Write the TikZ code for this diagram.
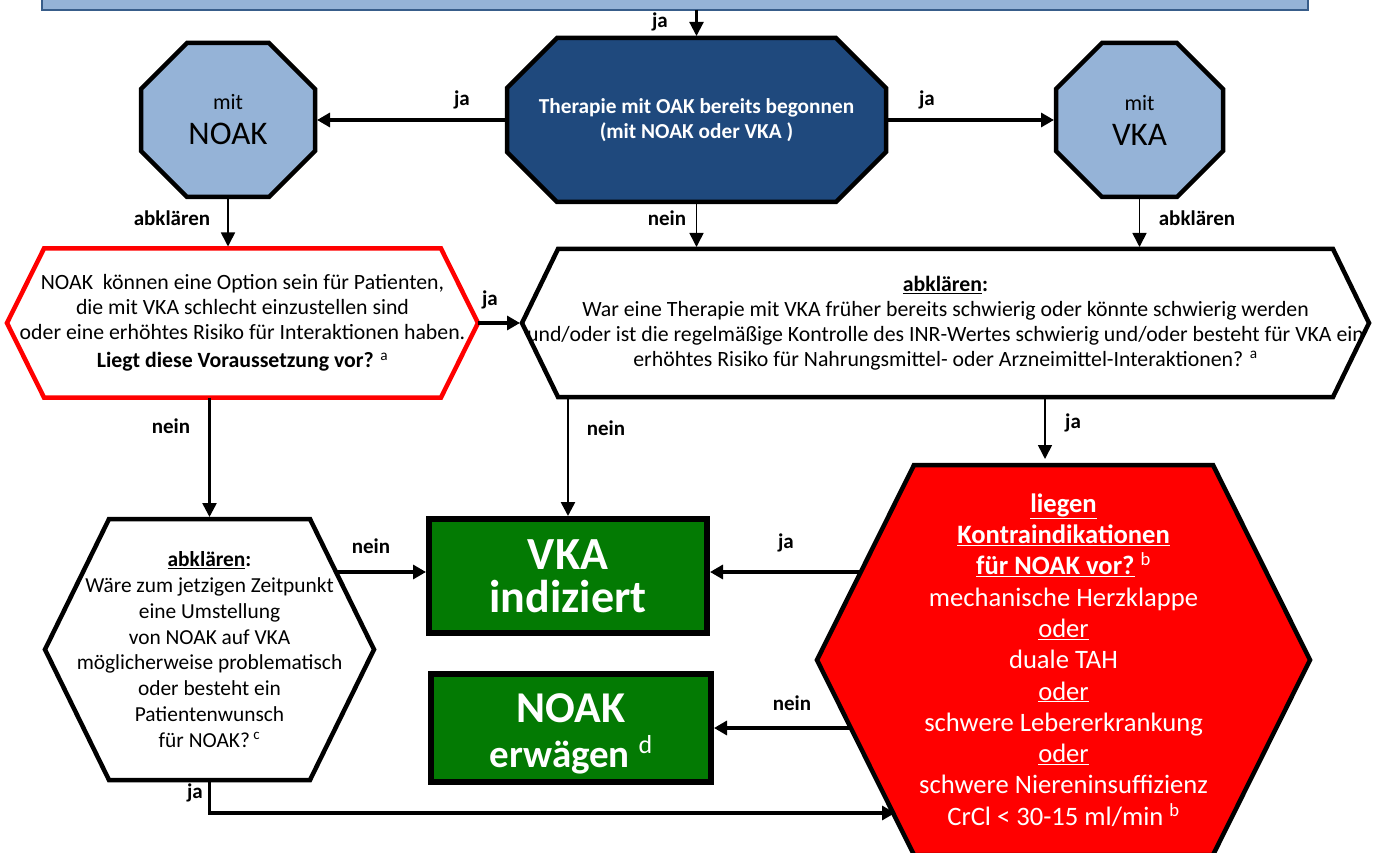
\documentclass[tikz,border=0pt]{standalone}
\usepackage{fontspec}
\setmainfont{Carlito}
\usetikzlibrary{arrows.meta,backgrounds}
\definecolor{lblue}{HTML}{95B3D7}
\definecolor{dblue}{HTML}{1F497D}
\definecolor{tborder}{HTML}{385D8A}
\definecolor{dgreen}{HTML}{037A03}
\definecolor{bred}{HTML}{FF0000}
\begin{document}
\begin{tikzpicture}[x=1pt,y=-1pt,
  txt/.style={inner sep=0pt, outer sep=0pt, align=center, font=\fontsize{21.8}{25}\selectfont},
  lbl/.style={inner sep=0pt, outer sep=0pt, font=\fontsize{21}{24}\selectfont\bfseries},
  gtxt/.style={inner sep=0pt, outer sep=0pt, text=white, anchor=base},
  arr/.style={draw=black, line width=1.6pt, -{Triangle[length=14pt,width=14pt]}},
  arrT/.style={draw=black, line width=3.2pt, -{Triangle[length=13pt,width=14pt]}},
  lblueshape/.style={draw=black, fill=lblue, line width=4.5pt, line join=miter},
  dblueshape/.style={draw=black, fill=dblue, line width=4.5pt, line join=miter},
  whiteshape/.style={draw=black, fill=white, line width=4.5pt, line join=miter},
  redborder/.style={draw=bred, fill=white, line width=4.5pt, line join=miter},
  redshape/.style={draw=black, fill=bred, line width=4.5pt, line join=miter},
  greenbox/.style={draw=black, fill=dgreen, line width=5.5pt, text=white, inner sep=0pt, outer sep=0pt, align=center},
]
\useasboundingbox (0,0) rectangle (1374,853);
\clip (0,0) rectangle (1374,853);

% ---------- nodes ----------
\node[inner sep=0pt, outer sep=0pt, minimum width=1266pt, minimum height=50pt, draw=tborder, fill=lblue, line width=2pt] (top) at (675,-15) {};

\node[txt, minimum width=379pt, minimum height=164pt, text=white, font=\fontsize{21.3}{25}\selectfont\bfseries] (oak) at (696.5,120)
  {Therapie mit OAK bereits begonnen\\(mit NOAK oder VKA )};

\node[txt, minimum width=174pt, minimum height=154pt] (noak) at (228,120)
  {{\fontsize{22}{24}\selectfont mit}\\[10pt]{\fontsize{33}{30}\selectfont NOAK}};

\node[txt, minimum width=167pt, minimum height=154pt] (vka) at (1139.5,120)
  {{\fontsize{22}{24}\selectfont mit}\\[10pt]{\fontsize{33}{30}\selectfont VKA}};

\node[txt, minimum width=471pt, minimum height=149pt] (hexA) at (242.5,323)
  {NOAK\ \ können eine Option sein für Patienten,\\
   die mit VKA schlecht einzustellen sind\\
   oder eine erhöhtes Risiko für Interaktionen haben.\\[3pt]
   \textbf{Liegt diese Voraussetzung vor?} \textsuperscript{a}};

\node[txt, minimum width=847pt, minimum height=148pt] (hexB) at (945.5,323)
  {\underline{\textbf{abklären}}\textbf{:}\\
   War eine Therapie mit VKA früher bereits schwierig oder könnte schwierig werden\\
   und/oder ist die regelmäßige Kontrolle des INR-Wertes schwierig und/oder besteht für VKA ein\\
   erhöhtes Risiko für Nahrungsmittel- oder Arzneimittel-Interaktionen? \textsuperscript{a}};

\node[txt, minimum width=329pt, minimum height=261pt, font=\fontsize{21.4}{25.8}\selectfont] (hexC) at (209.5,649.5)
  {\underline{\textbf{abklären}}\textbf{:}\\
   Wäre zum jetzigen Zeitpunkt\\
   eine Umstellung\\
   von NOAK auf VKA\\
   möglicherweise problematisch\\
   oder besteht ein\\
   Patientenwunsch\\
   für NOAK?\,\textsuperscript{c}};

\node[greenbox, minimum width=278pt, minimum height=114pt, font=\fontsize{46}{43}\selectfont\bfseries] (vkaind) at (568,576)
  {VKA\\indiziert};

\node[greenbox, minimum width=280pt, minimum height=108pt] (noakerw) at (571,728) {};
\node[gtxt, font=\fontsize{44}{44}\selectfont\bfseries] (noakerwA) at (571,722) {NOAK};
\node[gtxt, font=\fontsize{39}{44}\selectfont\bfseries] (noakerwB) at (571,767)
  {erwägen\ {\fontsize{26}{26}\mdseries\selectfont\raisebox{14pt}{d}}};

\node[txt, minimum width=493pt, minimum height=390pt, text=white, font=\fontsize{26.6}{31.3}\selectfont] (hexD) at (1063.5,660)
  {\underline{\textbf{liegen}}\\
   \underline{\textbf{Kontraindikationen}}\\
   \underline{\textbf{für NOAK vor?}} \textsuperscript{b}\\
   mechanische Herzklappe\\
   \underline{oder}\\
   duale TAH\\
   \underline{oder}\\
   schwere Lebererkrankung\\
   \underline{oder}\\
   schwere Niereninsuffizienz\\
   CrCl < 30-15 ml/min \textsuperscript{b}};

% ---------- shapes ----------
\begin{scope}[on background layer]
\path[dblueshape] ([xshift=50pt]oak.north west) -- ([xshift=-50pt]oak.north east) -- ([yshift=-50pt]oak.north east) -- ([yshift=50pt]oak.south east) -- ([xshift=-50pt]oak.south east) -- ([xshift=50pt]oak.south west) -- ([yshift=50pt]oak.south west) -- ([yshift=-50pt]oak.north west) -- cycle;
\path[lblueshape] ([xshift=46pt]noak.north west) -- ([xshift=-46pt]noak.north east) -- ([yshift=-46pt]noak.north east) -- ([yshift=46pt]noak.south east) -- ([xshift=-46pt]noak.south east) -- ([xshift=46pt]noak.south west) -- ([yshift=46pt]noak.south west) -- ([yshift=-46pt]noak.north west) -- cycle;
\path[lblueshape] ([xshift=46pt]vka.north west) -- ([xshift=-46pt]vka.north east) -- ([yshift=-46pt]vka.north east) -- ([yshift=46pt]vka.south east) -- ([xshift=-46pt]vka.south east) -- ([xshift=46pt]vka.south west) -- ([yshift=46pt]vka.south west) -- ([yshift=-46pt]vka.north west) -- cycle;
\path[redborder] (hexA.west) -- ([xshift=37pt]hexA.north west) -- ([xshift=-37pt]hexA.north east) -- (hexA.east) -- ([xshift=-37pt]hexA.south east) -- ([xshift=37pt]hexA.south west) -- cycle;
\path[whiteshape] (hexB.west) -- ([xshift=36pt]hexB.north west) -- ([xshift=-36pt]hexB.north east) -- (hexB.east) -- ([xshift=-36pt]hexB.south east) -- ([xshift=36pt]hexB.south west) -- cycle;
\path[whiteshape] (hexC.west) -- ([xshift=64pt]hexC.north west) -- ([xshift=-64pt]hexC.north east) -- (hexC.east) -- ([xshift=-64pt]hexC.south east) -- ([xshift=64pt]hexC.south west) -- cycle;
\path[redshape] (hexD.west) -- ([xshift=97pt]hexD.north west) -- ([xshift=-97pt]hexD.north east) -- (hexD.east) -- ([xshift=-97pt]hexD.south east) -- ([xshift=97pt]hexD.south west) -- cycle;
\end{scope}

% ---------- coordinates for connector ends ----------
\coordinate (bJa) at (1045,397);
\coordinate (dTop) at (1045,459);
\coordinate (cRight) at (337,572);
\coordinate (dJa) at (859,572);
\coordinate (dNein) at (852,728);
\coordinate (dIn) at (895,813);

% ---------- connectors ----------
\draw[arr, line width=2.2pt] (oak.north |- top.south) -- ([yshift=2pt]oak.north);
\draw[arrT] (oak.west) -- ([xshift=2pt]noak.east);
\draw[arrT] (oak.east) -- ([xshift=-2pt]vka.west);
\draw[arr] (noak.south) -- ([yshift=2pt]noak.south |- hexA.north);
\draw[arr] (oak.south) -- ([yshift=2pt]oak.south |- hexB.north);
\draw[arr] (vka.south) -- ([yshift=2pt]vka.south |- hexB.north);
\draw[arrT] (hexA.east) -- ([xshift=-2pt]hexA.east -| hexB.west);
\draw[arr, line width=2.6pt] (hexC.north |- hexA.south) -- ([yshift=2pt]hexC.north);
\draw[arr, line width=2.6pt] (vkaind.north |- hexB.south) -- ([yshift=3pt]vkaind.north);
\draw[arr] (bJa) -- (dTop);
\draw[arrT] (cRight) -- ([xshift=-3pt]cRight -| vkaind.west);
\draw[arrT] (dJa) -- ([xshift=3pt]dJa -| vkaind.east);
\draw[arrT] (dNein) -- ([xshift=3pt]dNein -| noakerw.east);
\draw[arrT] (hexC.south) -- (hexC.south |- dIn) -- (dIn);

% ---------- labels ----------
\node[lbl] (l1) at (660,22) {ja};
\node[lbl] (l2) at (462,100) {ja};
\node[lbl] (l3) at (927,100) {ja};
\node[lbl] (l4) at (172,218) {abklären};
\node[lbl] (l5) at (667,218) {nein};
\node[lbl] (l6) at (1197,218) {abklären};
\node[lbl] (l7) at (490,300) {ja};
\node[lbl] (l8) at (171,426) {nein};
\node[lbl] (l9) at (606,428) {nein};
\node[lbl] (l10) at (1073,423) {ja};
\node[lbl] (l11) at (371,546) {nein};
\node[lbl] (l12) at (786,543) {ja};
\node[lbl] (l13) at (792,703) {nein};
\node[lbl] (l14) at (195,793) {ja};
\end{tikzpicture}
\end{document}
